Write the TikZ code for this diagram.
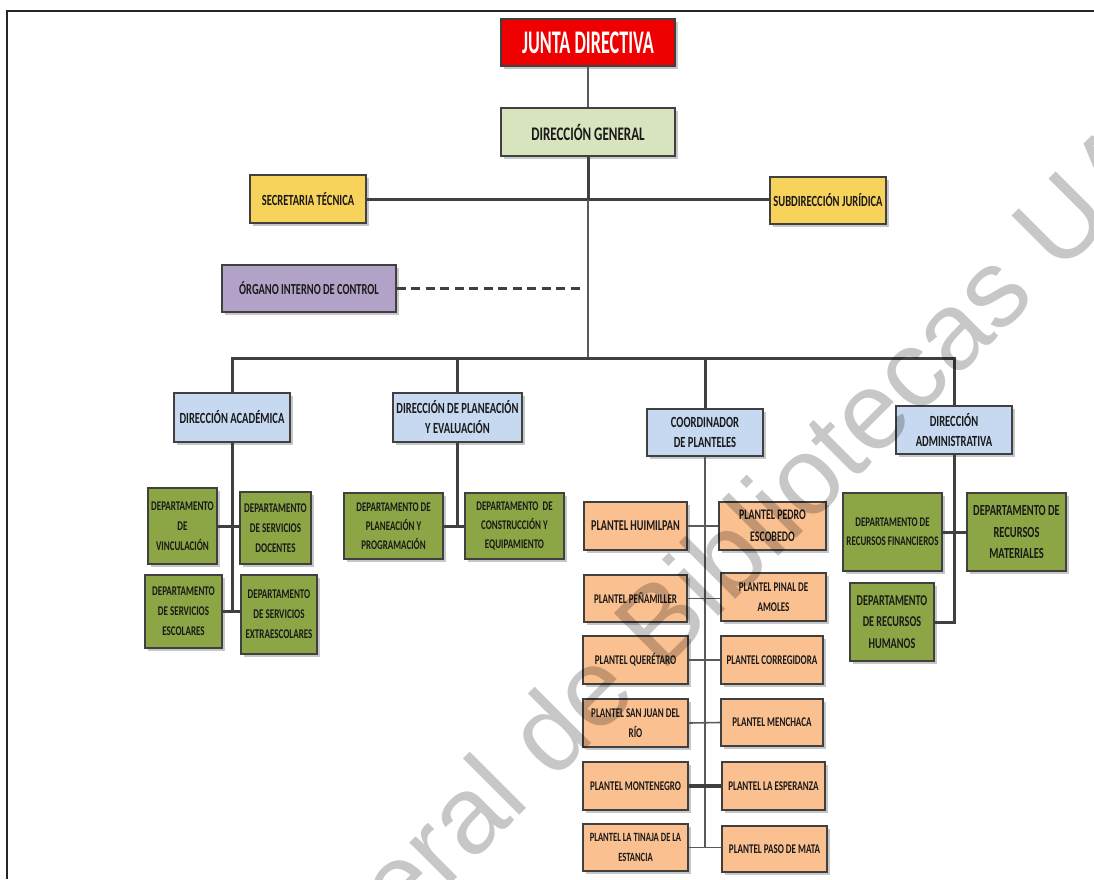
\documentclass[tikz,border=0pt]{standalone}
\usepackage{fontspec}
\setmainfont{Carlito}
\newfontfamily\cf[FakeStretch=0.68]{Carlito}
\newfontfamily\cfj[FakeStretch=0.55]{Carlito}
\newfontfamily\wmfont{Liberation Sans}
\usetikzlibrary{shadows}
\definecolor{cred}{RGB}{238,0,0}
\definecolor{cdg}{RGB}{215,228,189}
\definecolor{cyel}{RGB}{248,211,92}
\definecolor{cpur}{RGB}{179,162,199}
\definecolor{cblu}{RGB}{198,217,241}
\definecolor{cgrn}{RGB}{140,166,70}
\definecolor{cpch}{RGB}{250,192,144}
\definecolor{cline}{RGB}{64,64,64}
\definecolor{cthin}{RGB}{90,90,90}
\tikzset{
  box/.style={draw=cline, line width=1.3pt, align=center, inner sep=1pt, text=black!90,
    drop shadow={shadow xshift=2.5pt, shadow yshift=-2.5pt, fill=black!22, opacity=1}},
  fs/.style={font=\cf\bfseries\fontsize{#1}{20}\selectfont},
  fj/.style={font=\cfj\bfseries\fontsize{33}{36}\selectfont, text=white},
  fb/.style={font=\cf\bfseries\fontsize{15.5}{20}\selectfont},
  fc/.style={font=\cf\bfseries\fontsize{13.3}{20}\selectfont},
  fd/.style={font=\cf\bfseries\fontsize{13.2}{19}\selectfont},
  fe/.style={font=\cf\bfseries\fontsize{15}{21.5}\selectfont},
  thickln/.style={draw=cline, line width=3pt},
  thinln/.style={draw=cthin, line width=1.6pt},
}
\newcommand\bx[7]{\node[box,#6,minimum width={(#4)-(#2)},minimum height={(#5)-(#3)}] (#1) at ({((#2)+(#4))/2},{((#3)+(#5))/2}) {#7};}
\begin{document}
\begin{tikzpicture}[x=1pt,y=-1pt]
\useasboundingbox (0,0) rectangle (1094,879);
\fill[white] (0,0) rectangle (1094,879);
\clip (0,0) rectangle (1094,879);
% frame
\draw[line width=2pt, draw=black!85] (7,879) -- (7,11) -- (1094,11);
% coordinates
\coordinate (j1) at (588,200);
\coordinate (bus) at (588,358);
\coordinate (oe) at (585,288.5);
% boxes
\bx{jd}{501}{19}{675}{66}{fill=cred,fj}{JUNTA DIRECTIVA}
\bx{dg}{501}{108}{675}{156}{fill=cdg,fs=19.2}{DIRECCIÓN GENERAL}
\bx{st}{250}{175}{366}{223}{fill=cyel,fb}{SECRETARIA TÉCNICA}
\bx{sj}{770}{177}{886}{224}{fill=cyel,fb}{SUBDIRECCIÓN JURÍDICA}
\bx{oic}{222}{265}{396}{312}{fill=cpur,fs=15.3}{ÓRGANO INTERNO DE CONTROL}
\bx{da}{174}{393}{290}{442}{fill=cblu,fb}{DIRECCIÓN ACADÉMICA}
\bx{dpe}{393}{393}{522}{442}{fill=cblu,fb}{DIRECCIÓN DE PLANEACIÓN\\Y EVALUACIÓN}
\bx{cp}{647}{409}{763}{456}{fill=cblu,fb}{COORDINADOR\\DE PLANTELES}
\bx{dad}{896}{406}{1012}{454}{fill=cblu,fb}{DIRECCIÓN\\ADMINISTRATIVA}
\bx{dv}{148}{488}{217}{564}{fill=cgrn,fc}{DEPARTAMENTO\\DE\\VINCULACIÓN}
\bx{dsd}{240}{492}{311}{564}{fill=cgrn,fc}{DEPARTAMENTO\\DE SERVICIOS\\DOCENTES}
\bx{dse}{145}{575}{222}{648}{fill=cgrn,fc}{DEPARTAMENTO\\DE SERVICIOS\\ESCOLARES}
\bx{dsx}{241}{575}{317}{654}{fill=cgrn,fc}{DEPARTAMENTO\\DE SERVICIOS\\EXTRAESCOLARES}
\bx{dpp}{344}{493}{443}{559}{fill=cgrn,fd}{DEPARTAMENTO DE\\PLANEACIÓN Y\\PROGRAMACIÓN}
\bx{dce}{465}{493}{564}{559}{fill=cgrn,fd}{DEPARTAMENTO\ \ DE\\CONSTRUCCIÓN Y\\EQUIPAMIENTO}
\bx{drf}{843}{493}{942}{571}{fill=cgrn,fd}{DEPARTAMENTO DE\\RECURSOS FINANCIEROS}
\bx{drm}{967}{493}{1066}{571}{fill=cgrn,fe,font=\cf\bfseries\fontsize{15.4}{21.5}\selectfont}{DEPARTAMENTO DE\\RECURSOS\\MATERIALES}
\bx{drh}{850}{583}{934}{661}{fill=cgrn,fe}{DEPARTAMENTO\\DE RECURSOS\\HUMANOS}
\bx{ph}{584}{502}{687}{550}{fill=cpch,fe}{PLANTEL HUIMILPAN}
\bx{ppe}{719}{502}{826}{550}{fill=cpch,fe,font=\cf\bfseries\fontsize{14.6}{21.5}\selectfont}{PLANTEL PEDRO\\ESCOBEDO}
\bx{ppm}{584}{575}{687}{622}{fill=cpch,fc}{PLANTEL PEÑAMILLER}
\bx{ppa}{721}{573}{826}{621}{fill=cpch,fc}{PLANTEL PINAL DE\\AMOLES}
\bx{pq}{583}{636}{688}{684}{fill=cpch,fc}{PLANTEL QUERÉTARO}
\bx{pc}{721}{636}{823}{684}{fill=cpch,fc}{PLANTEL CORREGIDORA}
\bx{psj}{583}{699}{688}{747}{fill=cpch,fc}{PLANTEL SAN JUAN DEL\\RÍO}
\bx{pm}{721}{699}{823}{746}{fill=cpch,fc}{PLANTEL MENCHACA}
\bx{pmo}{583}{762}{688}{810}{fill=cpch,fc}{PLANTEL MONTENEGRO}
\bx{pe}{722}{762}{825}{810}{fill=cpch,fc}{PLANTEL LA ESPERANZA}
\bx{pt}{583}{824}{688}{871}{fill=cpch,fs=12.6}{PLANTEL LA TINAJA DE LA\\ESTANCIA}
\bx{pp}{722}{826}{827}{872}{fill=cpch,fc}{PLANTEL PASO DE MATA}
% connectors
\draw[draw=cthin, line width=1.2pt] (jd.south) -- (dg.north);
\draw[thickln] (dg.south) -- (j1);
\draw[thickln] (st.east) -- (st.east -| sj.west);
\draw[thinln] (j1) -- (bus);
\draw[draw=cline, line width=3.5pt, dash pattern=on 9pt off 5.5pt] (oic.east) -- (oe);
\draw[thickln, line cap=rect] (da.north |- bus) -- (dad.north |- bus);
\draw[thickln] (da.north |- bus) -- (da.north);
\draw[thickln] (dpe.north |- bus) -- (dpe.north);
\draw[thickln] (cp.north |- bus) -- (cp.north);
\draw[thickln] (dad.north |- bus) -- (dad.north);
% academica
\draw[thickln] (da.south) -- (da.south |- dse.east);
\draw[thickln] (dv.east) -- (dv.east -| dsd.west);
\draw[thickln] (dse.east) -- (dse.east -| dsx.west);
% planeacion
\draw[thickln] (dpe.south) -- (dpe.south |- dpp.east);
\draw[thickln] (dpp.east) -- (dce.west);
% planteles
\draw[thinln] (cp.south) -- (cp.south |- pt.east);
\draw[thinln] (ph.east) -- (ppe.west);
\draw[thinln] (ppm.east) -- (ppm.east -| ppa.west);
\draw[thinln] (pq.east) -- (pc.west);
\draw[thinln] (psj.east) -- (pm.west);
\draw[draw=cline, line width=4pt] (pmo.east) -- (pe.west);
\draw[thinln] (pt.east) -- (pt.east -| pp.west);
% administrativa
\draw[thickln] (dad.south) -- (dad.south |- drh.east);
\draw[thickln] (drf.east) -- (drm.west);
\draw[thickln, line cap=rect] (drh.east) -- (drh.east -| dad.south);
% watermark
\node[anchor=base west, rotate=45, inner sep=0pt, text=black, opacity=0.22,
  font=\wmfont\fontsize{110}{120}\selectfont] (wm) at (402,933) {eral de Bibliotecas UA};
\end{tikzpicture}
\end{document}
